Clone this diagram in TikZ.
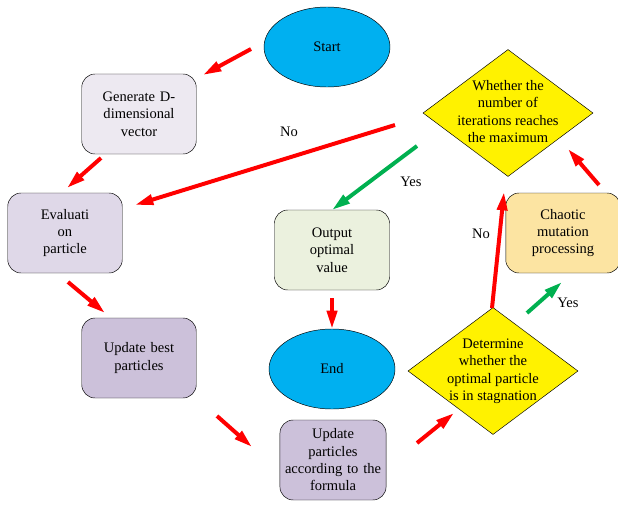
\documentclass[tikz,border=0pt]{standalone}
\usepackage{fontspec}
\setmainfont{Liberation Serif}
\usetikzlibrary{arrows.meta,shapes.geometric}
\definecolor{startblue}{HTML}{00B0F0}
\definecolor{genfill}{HTML}{EDE9F1}
\definecolor{evalfill}{HTML}{DFD8E8}
\definecolor{updfill}{HTML}{CCC1DA}
\definecolor{outfill}{HTML}{EBF1DE}
\definecolor{chaosfill}{HTML}{FCE4A2}
\definecolor{arrgreen}{HTML}{00B050}

\begin{document}
\begin{tikzpicture}[x=0.03cm,y=-0.03cm,
    txt/.style={font=\fontsize{12.4}{14.8}\selectfont, align=center},
    box/.style={txt, draw, rounded corners=0.4cm, minimum width=3.39cm, minimum height=2.4cm, text width=3.2cm},
    terminal/.style={txt, draw, ellipse, fill=startblue, minimum width=3.78cm, minimum height=2.4cm},
    decision/.style={draw, diamond, fill=yellow, minimum width=5.1cm, minimum height=3.81cm, inner sep=0pt},
    redarr/.style={red, line width=3.4pt, -{Triangle[length=0.55cm,width=0.3cm]}},
    greenarr/.style={arrgreen, line width=3.4pt, -{Triangle[length=0.55cm,width=0.3cm]}},
    lbl/.style={font=\fontsize{12.4}{14.8}\selectfont}]
    \useasboundingbox (0,0) rectangle (618,504);
    %% Cac khoi
    \node[terminal] (start) at (327,47) {Start};
    \node[box, fill=genfill] (gen) at (139,114) {Generate D-\\dimensional\\vector};
    \node[box, fill=evalfill] (eval) at (65,233) {Evaluati\\on\\particle};
    \node[box, fill=updfill] (best) at (139,358) {Update best\\particles};
    \node[box, fill=updfill, minimum width=3.06cm, text width=2.95cm] (upd) at (333,460) {Update\\particles\\according to the\\formula};
    \node[box, fill=outfill, minimum width=3.45cm] (out) at (332,250) {Output\\optimal\\value};
    \node[terminal] (end) at (332,369) {End};
    \node[box, fill=chaosfill, minimum width=3.27cm] (chaos) at (563,233) {Chaotic\\mutation\\processing};
    \node[decision, label={[txt]center:{\raisebox{0.1cm}{\begin{tabular}{@{}c@{}}Determine\\whether the\\optimal particle\\is in stagnation\end{tabular}}}}] (stag) at (493,371) {};
    \node[decision, label={[txt]center:{\raisebox{0.1cm}{\begin{tabular}{@{}c@{}}Whether the\\number of\\iterations reaches\\the maximum\end{tabular}}}}] (iter) at (508,113) {};
    %% Diem dau mui ten
    \coordinate (s1) at (251,49);   \coordinate (e1) at (203,75);
    \coordinate (s2) at (101,158);  \coordinate (e2) at (67,188);
    \coordinate (s3) at (395,125);  \coordinate (e3) at (135,205);
    \coordinate (s4) at (68,282);   \coordinate (e4) at (105,313);
    \coordinate (s5) at (217,416);  \coordinate (e5) at (252,447);
    \coordinate (s6) at (417,443);  \coordinate (e6) at (454,413);
    \coordinate (s7) at (492,308);  \coordinate (e7) at (504,192);
    \coordinate (s8) at (527,313);  \coordinate (e8) at (562,282);
    \coordinate (s9) at (599,185);  \coordinate (e9) at (568,149);
    \coordinate (s10) at (417,146); \coordinate (e10) at (332,210);
    \coordinate (s11) at (332,298); \coordinate (e11) at (332,329);
    %% Mui ten
    \draw[redarr] (s1) -- (e1);
    \draw[redarr] (s2) -- (e2);
    \draw[redarr] (s3) -- (e3);
    \draw[redarr] (s4) -- (e4);
    \draw[redarr] (s5) -- (e5);
    \draw[redarr] (s6) -- (e6);
    \draw[redarr] (s7) -- (e7);
    \draw[greenarr] (s8) -- (e8);
    \draw[redarr] (s9) -- (e9);
    \draw[greenarr] (s10) -- (e10);
    \draw[redarr] (s11) -- (e11);
    %% Nhan
    \node[lbl] (no1) at (289,132) {No};
    \node[lbl] (yes1) at (411,182) {Yes};
    \node[lbl] (no2) at (481,234) {No};
    \node[lbl] (yes2) at (568,303) {Yes};
\end{tikzpicture}
\end{document}
